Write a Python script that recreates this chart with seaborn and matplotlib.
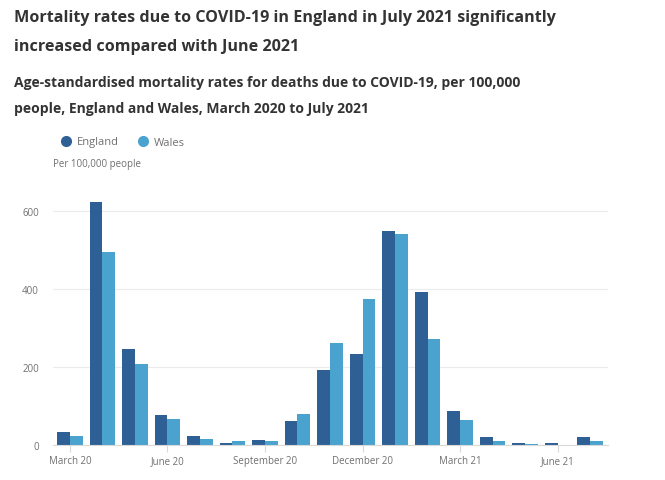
import matplotlib
matplotlib.use("Agg")
import matplotlib.pyplot as plt
from matplotlib.lines import Line2D
import seaborn as sns
import pandas as pd

months = ["Mar 2020", "Apr 2020", "May 2020", "Jun 2020", "Jul 2020", "Aug 2020",
          "Sep 2020", "Oct 2020", "Nov 2020", "Dec 2020", "Jan 2021", "Feb 2021",
          "Mar 2021", "Apr 2021", "May 2021", "Jun 2021", "Jul 2021"]
england = [33, 622, 245, 77, 22, 5, 12, 62, 191, 232, 548, 391, 87, 20, 5, 5, 20]
wales = [22, 495, 208, 67, 15, 10, 10, 80, 260, 373, 539, 271, 65, 11, 3, 1, 11]
tick_labels = ["March 20", "June 20", "September 20", "December 20", "March 21", "June 21"]
tick_positions = [0, 3, 6, 9, 12, 15]
yticks = [0, 200, 400, 600]

df = pd.DataFrame({
    "month": months * 2,
    "rate": england + wales,
    "country": ["England"] * len(months) + ["Wales"] * len(months),
})

sns.set_theme(style="white")
plt.rcParams["font.family"] = ["Open Sans", "DejaVu Sans"]

colors = {"England": "#2e6096", "Wales": "#4aa3cf"}

fig = plt.figure(figsize=(6.65, 4.81), dpi=100)
ax = fig.add_axes([53/665, 35/481, 555/665, 254/481])

sns.barplot(data=df, x="month", y="rate", hue="country", palette=colors,
            width=0.78, saturation=1, ax=ax, legend=False, order=months,
            linewidth=0, edgecolor="none")

ax.set_xlim(-0.52, 16.55)
ax.set_ylim(0, 650)
ax.set_yticks(yticks)
ax.set_yticklabels([str(v) for v in yticks], fontsize=7, color="#707070")
ax.set_xticks(tick_positions)
ax.set_xticklabels(tick_labels, fontsize=7, color="#707070")
ax.tick_params(axis="y", length=0, pad=10)
ax.tick_params(axis="x", length=5, color="#d9d9d9", width=0.8, pad=2, bottom=True)
ax.set_xlabel("")
ax.set_ylabel("")
ax.grid(axis="y", color="#ebebeb", linewidth=0.8)
ax.set_axisbelow(True)
for s in ["top", "right", "left"]:
    ax.spines[s].set_visible(False)
ax.spines["bottom"].set_color("#d9d9d9")
ax.spines["bottom"].set_linewidth(0.8)

title_color = "#333333"
fig.text(14/665, 1 - 18/481, "Mortality rates due to COVID-19 in England in July 2021 significantly",
         fontsize=11.6, fontweight="bold", color=title_color, va="center")
fig.text(14/665, 1 - 47/481, "increased compared with June 2021",
         fontsize=11.6, fontweight="bold", color=title_color, va="center")
fig.text(14/665, 1 - 83/481, "Age-standardised mortality rates for deaths due to COVID-19, per 100,000",
         fontsize=10, fontweight="bold", color=title_color, va="center")
fig.text(14/665, 1 - 109/481, "people, England and Wales, March 2020 to July 2021",
         fontsize=10, fontweight="bold", color=title_color, va="center")

handles = [Line2D([], [], marker="o", linestyle="", markersize=7, color=colors[c], label=c)
           for c in ["England", "Wales"]]
fig.legend(handles=handles, loc="center left", bbox_to_anchor=(60/665, 1 - 143/481),
           ncol=2, frameon=False, fontsize=8, handletextpad=0.5, columnspacing=1.7,
           labelcolor="#707070", borderaxespad=0, borderpad=0, handlelength=1)
fig.text(53/665, 1 - 164/481, "Per 100,000 people", fontsize=7, color="#707070", va="center")

fig.savefig("out.png", dpi=100)
